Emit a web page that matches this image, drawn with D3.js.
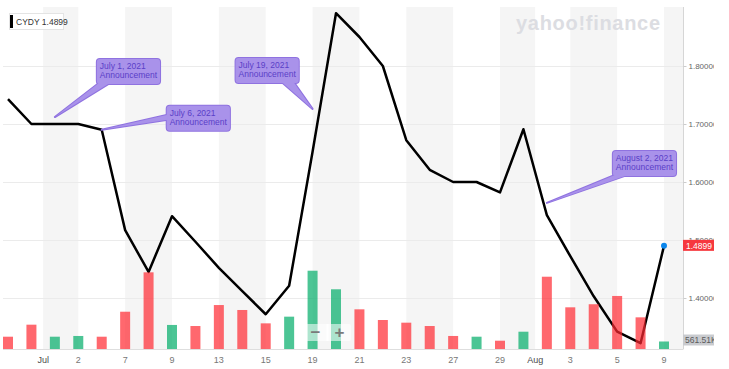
<!DOCTYPE html>
<html>
<head>
<script src="https://cdn.jsdelivr.net/npm/d3@7"></script>
<style>
	body { margin: 0; background: #fff; }
	svg text { font-family: "Liberation Sans", Arial, sans-serif; }
	.grid line { stroke: #ebebeb; stroke-width: 1px; }
	.band { fill: #f5f5f5; }
	.xlab { font-size: 9px; fill: #777; }
	.xlab.month { fill: #4a4a4a; }
	.ylab { font-size: 8px; fill: #666; }
</style>
</head>
<body>
<script>
// trading days shown on the chart
var days = ["Jun 29","Jun 30","Jul 1","Jul 2","Jul 6","Jul 7","Jul 8","Jul 9","Jul 12","Jul 13",
	"Jul 14","Jul 15","Jul 16","Jul 19","Jul 20","Jul 21","Jul 22","Jul 23","Jul 26","Jul 27",
	"Jul 28","Jul 29","Jul 30","Aug 2","Aug 3","Aug 4","Aug 5","Aug 6","Aug 9"];
var closes = [1.743, 1.700, 1.700, 1.700, 1.690, 1.517, 1.445, 1.541, 1.497, 1.452,
	1.412, 1.372, 1.421, 1.652, 1.891, 1.850, 1.800, 1.672, 1.621, 1.600,
	1.600, 1.582, 1.691, 1.543, 1.472, 1.403, 1.342, 1.322, 1.4899];
// volume in thousands
var volumes = [920, 1820, 920, 975, 920, 2790, 5740, 1800, 1720, 3290,
	2920, 1920, 2420, 5860, 4470, 2970, 2170, 1970, 1720, 975,
	920, 620, 1295, 5410, 3120, 3350, 3970, 2370, 561.51];
var prevClose = 1.75;

var tickDays = ["Jul 1","Jul 2","Jul 7","Jul 9","Jul 13","Jul 15","Jul 19","Jul 21","Jul 23",
	"Jul 27","Jul 29","Aug 2","Aug 3","Aug 5","Aug 9"];
var monthLabels = {"Jul 1": "Jul", "Aug 2": "Aug"};
var yTicks = [1.4, 1.5, 1.6, 1.7, 1.8];

var notes = [
	{day: "Jul 1", value: 1.712, line1: "July 1, 2021", bx: 42, by: -58, side: "bottom", b0: 2, b1: 13},
	{day: "Jul 6", value: 1.690, line1: "July 6, 2021", bx: 65, by: -24, side: "left", b0: 9, b1: 14},
	{day: "Jul 19", value: 1.726, line1: "July 19, 2021", bx: -77, by: -51, side: "bottom", b0: 46, b1: 58},
	{day: "Aug 2", value: 1.564, line1: "August 2, 2021", bx: 66, by: -52, side: "bottom", b0: 2, b1: 15}
];

var W = 729, H = 369;
var pLeft = 3, pRight = 683.5, pTop = 7, pBottom = 349;

var svg = d3.select("body").append("svg")
	.attr("width", W).attr("height", H);

var x = d3.scaleLinear().domain([0, days.length - 1]).range([8, 664]);
var y = d3.scaleLinear().domain([1.8, 1.4]).range([66, 298]);
var yVol = d3.scaleLinear().domain([0, 10000]).range([pBottom, pBottom - 133.6]);

var ticks = tickDays.map(function(d) {
	var i = days.indexOf(d);
	if (monthLabels[d]) return {pos: i - 0.5, label: monthLabels[d], month: true};
	return {pos: i, label: d.split(" ")[1], month: false};
});

svg.append("clipPath").attr("id", "plot")
	.append("rect").attr("x", pLeft).attr("y", pTop).attr("width", pRight - pLeft).attr("height", pBottom - pTop);
svg.append("clipPath").attr("id", "labs")
	.append("rect").attr("x", 680).attr("y", 0).attr("width", 34).attr("height", H);

// alternating shaded bands between tick pairs
var bands = [];
for (var k = 0; k < ticks.length; k += 2) {
	var x0 = x(ticks[k].pos);
	var x1 = k + 1 < ticks.length ? x(ticks[k + 1].pos) : pRight;
	bands.push([x0, x1]);
}
svg.append("g").selectAll("rect").data(bands).enter().append("rect")
	.attr("class", "band")
	.attr("x", function(d) { return d[0]; })
	.attr("y", pTop)
	.attr("width", function(d) { return d[1] - d[0]; })
	.attr("height", pBottom - pTop);

// horizontal gridlines
svg.append("g").attr("class", "grid").selectAll("line").data(yTicks).enter().append("line")
	.attr("x1", pLeft).attr("x2", pRight)
	.attr("y1", function(d) { return Math.round(y(d)) + 0.5; })
	.attr("y2", function(d) { return Math.round(y(d)) + 0.5; });

// watermark
svg.append("text")
	.attr("x", 516).attr("y", 30)
	.attr("textLength", 144)
	.style("font-size", "20px").style("font-weight", "bold")
	.style("fill", "#dcdde2")
	.text("yahoo!finance");

// price line
var line = d3.line()
	.x(function(d, i) { return x(i); })
	.y(function(d) { return y(d); });
svg.append("path")
	.datum(closes)
	.attr("clip-path", "url(#plot)")
	.attr("d", line)
	.attr("fill", "none")
	.attr("stroke", "#000")
	.attr("stroke-width", 2.5)
	.attr("stroke-linejoin", "round");

// volume bars, drawn over the line
svg.append("g").selectAll("rect").data(volumes).enter().append("rect")
	.attr("x", function(d, i) { return x(i) - 5; })
	.attr("width", 10)
	.attr("y", function(d) { return yVol(d); })
	.attr("height", function(d) { return pBottom - yVol(d); })
	.attr("fill", function(d, i) {
		var p = i == 0 ? prevClose : closes[i - 1];
		return closes[i] >= p ? "rgb(0,172,104)" : "rgb(255,40,48)";
	})
	.attr("fill-opacity", 0.7);

// last point
svg.append("circle")
	.attr("cx", x(closes.length - 1))
	.attr("cy", y(closes[closes.length - 1]))
	.attr("r", 3)
	.attr("fill", "#0a86ec");

// annotations
var ng = svg.append("g");
notes.forEach(function(n) {
	var tx = x(days.indexOf(n.day)), ty = y(n.value);
	var g = ng.append("g");
	var t1 = g.append("text").attr("x", tx + n.bx + 3).attr("y", ty + n.by + 10)
		.style("font-size", "8.5px").style("fill", "#5a3fc8").text(n.line1);
	var t2 = g.append("text").attr("x", tx + n.bx + 3).attr("y", ty + n.by + 19)
		.style("font-size", "8.5px").style("fill", "#5a3fc8").text("Announcement");
	var bw = Math.max(t1.node().getComputedTextLength(), t2.node().getComputedTextLength()) + 6;
	var bh = 25;
	var bx = tx + n.bx, by = ty + n.by;
	var wedge;
	if (n.side == "bottom") {
		wedge = [[bx + n.b0, by + bh - 1], [bx + n.b1, by + bh - 1], [tx, ty]];
	} else {
		wedge = [[bx + 1, by + n.b0], [bx + 1, by + n.b1], [tx, ty]];
	}
	var shapes = g.insert("g", "text");
	// outline layer
	shapes.append("rect").attr("x", bx).attr("y", by).attr("width", bw).attr("height", bh)
		.attr("rx", 3).attr("fill", "#8f72e0").attr("stroke", "#8f72e0").attr("stroke-width", 2);
	shapes.append("path").attr("d", d3.line()(wedge) + "Z")
		.attr("fill", "#8f72e0").attr("stroke", "#8f72e0").attr("stroke-width", 2).attr("stroke-linejoin", "round");
	// fill layer
	shapes.append("rect").attr("x", bx).attr("y", by).attr("width", bw).attr("height", bh)
		.attr("rx", 3).attr("fill", "#a992ea");
	shapes.append("path").attr("d", d3.line()(wedge) + "Z").attr("fill", "#a992ea");
});

// x axis
svg.append("line").attr("x1", pLeft).attr("x2", pRight).attr("y1", pBottom + 0.5).attr("y2", pBottom + 0.5)
	.attr("stroke", "#dedede");
svg.append("g").selectAll("text").data(ticks).enter().append("text")
	.attr("class", function(d) { return d.month ? "xlab month" : "xlab"; })
	.attr("x", function(d) { return x(d.pos); })
	.attr("y", 363)
	.attr("text-anchor", "middle")
	.text(function(d) { return d.label; });

// right axis
svg.append("line").attr("x1", pRight).attr("x2", pRight).attr("y1", pTop).attr("y2", pBottom)
	.attr("stroke", "#d6d6d6");
var ra = svg.append("g").attr("clip-path", "url(#labs)");
ra.selectAll("line").data(yTicks).enter().append("line")
	.attr("x1", pRight).attr("x2", pRight + 3)
	.attr("y1", function(d) { return Math.round(y(d)) + 0.5; })
	.attr("y2", function(d) { return Math.round(y(d)) + 0.5; })
	.attr("stroke", "#ccc");
ra.selectAll("text").data(yTicks).enter().append("text")
	.attr("class", "ylab")
	.attr("x", 688.5)
	.attr("y", function(d) { return y(d) + 3; })
	.text(function(d) { return d3.format(".5f")(d); });

// last price label
var lastY = y(closes[closes.length - 1]);
ra.append("rect").attr("x", 683).attr("y", lastY - 6).attr("width", 31).attr("height", 11)
	.attr("fill", "#f6383e");
ra.append("text").attr("x", 686).attr("y", lastY + 3)
	.style("font-size", "8.5px").style("fill", "#fff")
	.text(d3.format(".4f")(closes[closes.length - 1]));

// last volume label
var lastV = yVol(volumes[volumes.length - 1]);
ra.append("rect").attr("x", 683).attr("y", lastV - 7).attr("width", 32).attr("height", 11)
	.attr("fill", "#c9cbcf");
ra.append("text").attr("x", 685).attr("y", lastV + 1.5)
	.style("font-size", "8.5px").style("fill", "#5c5c5c")
	.text(d3.format(".2f")(volumes[volumes.length - 1]) + "K");

// zoom buttons
var zb = svg.append("g");
zb.append("rect").attr("x", 303).attr("y", 324).attr("width", 48).attr("height", 17).attr("rx", 2)
	.attr("fill", "#fff").attr("fill-opacity", 0.55);
zb.append("line").attr("x1", 327.5).attr("x2", 327.5).attr("y1", 324).attr("y2", 341)
	.attr("stroke", "#fff").attr("stroke-width", 2);
zb.append("text").attr("x", 315.5).attr("y", 338).attr("text-anchor", "middle")
	.style("font-size", "17px").style("font-weight", "bold").style("fill", "#7a7a7a").text("\u2212");
zb.append("text").attr("x", 339.5).attr("y", 338).attr("text-anchor", "middle")
	.style("font-size", "17px").style("font-weight", "bold").style("fill", "#7a7a7a").text("+");

// legend
var lg = svg.append("g");
lg.append("rect").attr("x", 9.5).attr("y", 13.5).attr("width", 54).attr("height", 16)
	.attr("fill", "#fff").attr("stroke", "#e4e4e4");
lg.append("rect").attr("x", 10).attr("y", 15).attr("width", 3).attr("height", 13).attr("fill", "#000");
lg.append("text").attr("x", 16).attr("y", 24.5)
	.style("font-size", "8.5px").style("fill", "#333")
	.text("CYDY " + d3.format(".4f")(closes[closes.length - 1]));
</script>
</body>
</html>
